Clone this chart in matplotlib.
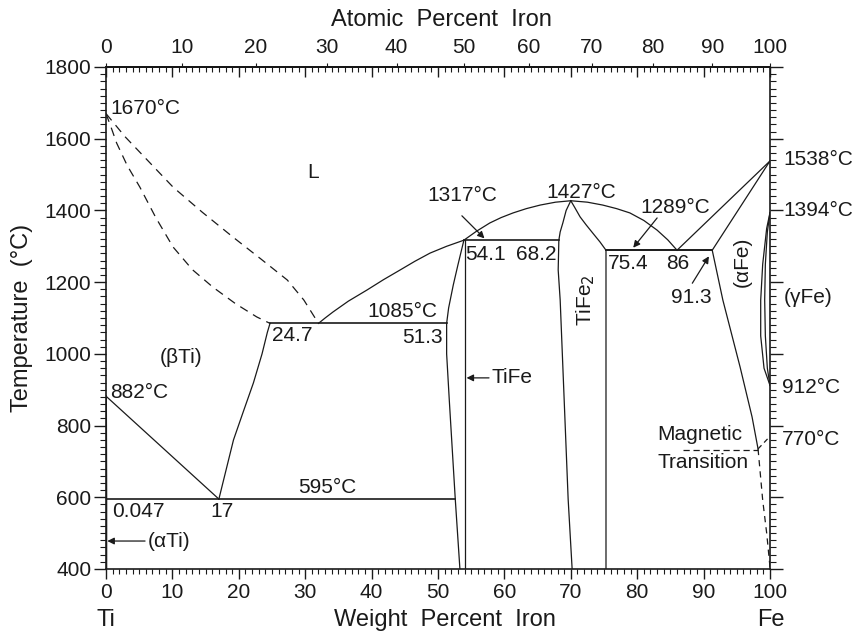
import numpy as np
import matplotlib
matplotlib.use("Agg")
import matplotlib.pyplot as plt
from matplotlib.ticker import MultipleLocator, NullLocator

plt.rcParams['font.family'] = ['Liberation Sans', 'DejaVu Sans']
plt.rcParams['font.size'] = 15

INK = '#1a1a1a'
M_FE, M_TI = 55.845, 47.867

# ---- phase boundaries (wt% Fe, deg C) ----
liq_beta_w = [0, 2.9, 6.5, 10.1, 14.5, 19.1, 23.3, 27.3, 29.8, 32.0]
liq_beta_T = [1670, 1605, 1535, 1465, 1395, 1326, 1265, 1206, 1150, 1085]
sol_beta_w = [0, 0.8, 1.6, 3.2, 5.1, 7.5, 10.1, 13.0, 16.1, 19.5, 22.7, 24.7]
sol_beta_T = [1670, 1630, 1588, 1525, 1465, 1380, 1298, 1235, 1186, 1140, 1103, 1085]

solvus_beta_w = [24.7, 24.3, 23.5, 22.2, 20.7, 19.2, 17.0]
solvus_beta_T = [1085, 1060, 1000, 919, 840, 760, 595]
transus_w = [0, 17.0]
transus_T = [882, 595]

alpha_ti_w = [0.047, 0.047, 0]
alpha_ti_T = [400, 595, 882]

liq_w = [32.0, 33.0, 34.2, 36.5, 39.3, 41.8, 44.3, 46.5, 48.8, 51.3, 53.9,
         55.8, 57.8, 59.5, 61.3, 63.3, 65.4, 67.7, 70.0, 72.5, 74.8, 76.9,
         78.9, 81.0, 83.0, 84.6, 86.0]
liq_T = [1085, 1100, 1117, 1147, 1178, 1207, 1234, 1258, 1281, 1300, 1317,
         1342, 1365, 1380, 1393, 1405, 1415, 1423, 1427, 1423, 1415, 1405,
         1393, 1372, 1345, 1318, 1289]

tife_left_w = [53.9, 53.0, 52.3, 51.6, 51.3, 51.3, 51.7, 52.6, 53.3]
tife_left_T = [1317, 1248, 1192, 1128, 1085, 1000, 871, 595, 400]
tife_right_w = [54.1, 54.1]
tife_right_T = [1317, 400]

tife2_left_w = [70.0, 69.3, 68.8, 68.4, 68.2, 68.1, 68.4, 69.6, 70.2]
tife2_left_T = [1427, 1400, 1365, 1340, 1317, 1234, 1150, 595, 400]
tife2_right_w = [70.0, 70.6, 71.4, 72.3, 73.3, 74.4, 75.3, 75.3]
tife2_right_T = [1427, 1408, 1382, 1360, 1337, 1312, 1289, 400]

iso_595_w = [0, 52.6]
iso_1085_w = [24.7, 51.3]
iso_1317_w = [53.9, 68.2]
iso_1289_w = [75.3, 91.3]

liq_fe_w = [86.0, 100]
liq_fe_T = [1289, 1538]
sol_fe_w = [91.3, 100]
sol_fe_T = [1289, 1538]

solvus_fe_w = [91.3, 92.9, 95.5, 97.3, 98.2]
solvus_fe_T = [1289, 1150, 963, 824, 735]
solvus_fe_dash_w = [98.2, 98.9, 99.5, 100]
solvus_fe_dash_T = [735, 592, 500, 405]

magnetic_w = [86.9, 98.2]
magnetic_T = [732, 732]
magnetic_up_w = [98.2, 100]
magnetic_up_T = [735, 770]

gamma_out_w = [100, 99.5, 98.9, 98.6, 98.6, 99.1, 100]
gamma_out_T = [1394, 1350, 1250, 1150, 1050, 960, 912]
gamma_in_w = [100, 99.6, 99.3, 99.2, 99.3, 99.6, 100]
gamma_in_T = [1394, 1340, 1250, 1150, 1050, 960, 912]

wt_major = list(range(0, 101, 10))
at_major = list(range(0, 101, 10))
T_major = list(range(400, 1801, 200))


def wt2at(w):
    w = np.asarray(w, dtype=float)
    return 100 * (w / M_FE) / (w / M_FE + (100 - w) / M_TI)


def at2wt(a):
    a = np.asarray(a, dtype=float)
    return 100 * a * M_FE / (a * M_FE + (100 - a) * M_TI)


fig = plt.figure(figsize=(8.58, 6.32), dpi=100)
ax = fig.add_axes([106 / 858, 1 - 569 / 632, 664 / 858, 502 / 632])
ax.set_xlim(0, 100)
ax.set_ylim(400, 1800)

lw = 0.9
dash = (0, (7, 5))
solid = dict(color=INK, lw=lw)

ax.plot(liq_beta_w, liq_beta_T, color=INK, lw=lw, ls=dash)
ax.plot(sol_beta_w, sol_beta_T, color=INK, lw=lw, ls=dash)
ax.plot(solvus_beta_w, solvus_beta_T, **solid)
ax.plot(transus_w, transus_T, **solid)
ax.plot(alpha_ti_w, alpha_ti_T, color=INK, lw=1.4)
ax.plot(liq_w, liq_T, **solid)
ax.plot(tife_left_w, tife_left_T, **solid)
ax.plot(tife_right_w, tife_right_T, **solid)
ax.plot(tife2_left_w, tife2_left_T, **solid)
ax.plot(tife2_right_w, tife2_right_T, **solid)
ax.plot(iso_595_w, [595, 595], color=INK, lw=1.2)
ax.plot(iso_1085_w, [1085, 1085], color=INK, lw=1.2)
ax.plot(iso_1317_w, [1317, 1317], color=INK, lw=1.2)
ax.plot(iso_1289_w, [1289, 1289], color=INK, lw=1.4)
ax.plot(liq_fe_w, liq_fe_T, **solid)
ax.plot(sol_fe_w, sol_fe_T, **solid)
ax.plot(solvus_fe_w, solvus_fe_T, **solid)
ax.plot(solvus_fe_dash_w, solvus_fe_dash_T, color=INK, lw=lw, ls=(0, (5, 4)))
ax.plot(magnetic_w, magnetic_T, color=INK, lw=lw, ls=(0, (5, 3)))
ax.plot(magnetic_up_w, magnetic_up_T, color=INK, lw=lw, ls=(0, (4, 3)))
ax.plot(gamma_out_w, gamma_out_T, **solid)
ax.plot(gamma_in_w, gamma_in_T, **solid)

# ---- labels ----
txt = dict(color=INK, fontsize=15)
ax.text(0.6, 1684, '1670°C', ha='left', va='center', **txt)
ax.text(31.2, 1507, 'L', ha='center', va='center', **txt)
ax.text(53.6, 1443, '1317°C', ha='center', va='center', **txt)
ax.text(71.5, 1451, '1427°C', ha='center', va='center', **txt)
ax.text(85.7, 1409, '1289°C', ha='center', va='center', **txt)
ax.text(44.6, 1117, '1085°C', ha='center', va='center', **txt)
ax.text(28.0, 1050, '24.7', ha='center', va='center', **txt)
ax.text(47.6, 1047, '51.3', ha='center', va='center', **txt)
ax.text(57.2, 1276, '54.1', ha='center', va='center', **txt)
ax.text(64.8, 1276, '68.2', ha='center', va='center', **txt)
ax.text(78.6, 1253, '75.4', ha='center', va='center', **txt)
ax.text(86.1, 1253, '86', ha='center', va='center', **txt)
ax.text(88.2, 1156, '91.3', ha='center', va='center', **txt)
ax.text(11.3, 991, '(βTi)', ha='center', va='center', **txt)
ax.text(0.6, 891, '882°C', ha='left', va='center', **txt)
ax.text(33.3, 626, '595°C', ha='center', va='center', **txt)
ax.text(0.9, 559, '0.047', ha='left', va='center', **txt)
ax.text(17.5, 559, '17', ha='center', va='center', **txt)
ax.text(72.2, 1150, 'TiFe$_2$', ha='center', va='center', rotation=90, **txt)
ax.text(95.8, 1256, '(αFe)', ha='center', va='center', rotation=90, **txt)
ax.text(83.0, 774, 'Magnetic', ha='left', va='center', **txt)
ax.text(83.0, 696, 'Transition', ha='left', va='center', **txt)
ax.text(102, 1541, '1538°C', ha='left', va='center', **txt)
ax.text(102, 1401, '1394°C', ha='left', va='center', **txt)
ax.text(102, 1158, '(γFe)', ha='left', va='center', **txt)
ax.text(101.8, 905, '912°C', ha='left', va='center', **txt)
ax.text(101.8, 760, '770°C', ha='left', va='center', **txt)

arrow = dict(arrowstyle='-|>', color=INK, lw=0.9, mutation_scale=10,
             shrinkA=0, shrinkB=0)
ax.annotate('(αTi)', xy=(0.2, 478), xytext=(6.3, 478), ha='left', va='center',
            arrowprops=arrow, **txt)
ax.annotate('TiFe', xy=(54.3, 933), xytext=(58.1, 933), ha='left', va='center',
            arrowprops=arrow, **txt)
ax.annotate('', xy=(57.0, 1322), xytext=(53.6, 1385), arrowprops=arrow)
ax.annotate('', xy=(79.4, 1296), xytext=(83.0, 1379), arrowprops=arrow)
ax.annotate('', xy=(90.8, 1272), xytext=(88.3, 1197), arrowprops=arrow)

# ---- axes and ticks ----
for s in ax.spines.values():
    s.set_linewidth(1.2)
    s.set_color(INK)

ax.set_xticks(wt_major)
ax.xaxis.set_minor_locator(MultipleLocator(1))
ax.set_yticks(T_major)
ax.yaxis.set_minor_locator(MultipleLocator(20))
ax.tick_params(axis='x', which='both', top=False, bottom=True, direction='out',
               colors=INK)
ax.tick_params(axis='x', which='major', length=7, width=1.0, pad=3, labelsize=15)
ax.tick_params(axis='x', which='minor', length=3.5, width=0.8)
ax.tick_params(axis='y', which='both', left=True, right=True, direction='out',
               colors=INK)
ax.tick_params(axis='y', which='major', length=9, width=1.0, pad=1.5, labelsize=15)
ax.tick_params(axis='y', which='minor', length=4, width=0.8)

top_wt = ax.secondary_xaxis('top')
top_wt.set_xticks(wt_major)
top_wt.xaxis.set_minor_locator(MultipleLocator(1))
top_wt.tick_params(axis='x', which='both', direction='in', labeltop=False,
                   colors=INK)
top_wt.tick_params(axis='x', which='major', length=7, width=1.0)
top_wt.tick_params(axis='x', which='minor', length=3.5, width=0.8)
top_wt.spines['top'].set_linewidth(1.2)

top_at = ax.secondary_xaxis('top', functions=(wt2at, at2wt))
top_at.set_xticks(at_major)
top_at.xaxis.set_minor_locator(NullLocator())
top_at.tick_params(axis='x', which='major', direction='out', length=3,
                   width=0.8, pad=4, labelsize=15, colors=INK)
top_at.spines['top'].set_linewidth(1.2)

fig.text(445 / 858, 1 - 620 / 632, 'Weight  Percent  Iron', ha='center',
         va='center', fontsize=17, color=INK)
fig.text(441 / 858, 1 - 20 / 632, 'Atomic  Percent  Iron', ha='center',
         va='center', fontsize=17, color=INK)
fig.text(22 / 858, 1 - 318 / 632, 'Temperature  (°C)', ha='center', va='center',
         rotation=90, fontsize=17, color=INK)
fig.text(106 / 858, 1 - 620 / 632, 'Ti', ha='center', va='center', fontsize=17,
         color=INK)
fig.text(771 / 858, 1 - 620 / 632, 'Fe', ha='center', va='center', fontsize=17,
         color=INK)

fig.savefig('out.png', dpi=100)
